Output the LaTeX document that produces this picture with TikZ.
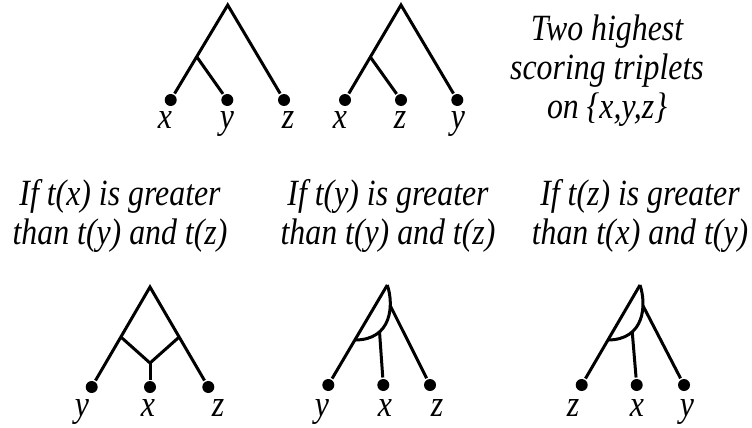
\documentclass[tikz,border=0pt]{standalone}
\usepackage{fontspec}
\setmainfont{Liberation Serif}[FakeStretch=0.86]

\begin{document}
\begin{tikzpicture}[
    x=1pt, y=-1pt,
    line width=3pt,
    every node/.style={font=\fontsize{37}{39}\selectfont\itshape},
    leaf/.style={circle, fill=black, inner sep=0pt, minimum size=12pt},
    caption/.style={align=center, anchor=base},
    letter/.style={anchor=base, inner sep=0pt}
]

\useasboundingbox (0,0) rectangle (752,428);

% Top left tree: ((x,y),z)
\coordinate (r1) at (227.7,5);
\coordinate (j1) at (196.7,56.7);
\node[leaf] (x1) at (170.7,100) {};
\node[leaf] (y1) at (227.3,100) {};
\node[leaf] (z1) at (284,100) {};
\draw (x1) -- (r1) -- (z1);
\draw (j1) -- (y1);

% Top right tree: ((x,z),y)
\coordinate (r2) at (401,5);
\coordinate (j2) at (370.3,57);
\node[leaf] (x2) at (345,100) {};
\node[leaf] (z2) at (401,100) {};
\node[leaf] (y2) at (457.3,100) {};
\draw (x2) -- (r2) -- (y2);
\draw (j2) -- (z2);

% Leaf names, top row
\foreach \x/\t in {165/x, 227/y, 288/z, 340/x, 400/z, 458/y}
    \node[letter] at (\x,128) {\t};

% Two highest triplets (base = last line)
\node[caption] (best) at (607,118) {Two highest\\scoring triplets\\on \{x,y,z\}};

% Conditions
\node[caption] (condx) at (120,244) {If t(x) is greater\\than t(y) and t(z)};
\node[caption] (condy) at (388,244) {If t(y) is greater\\than t(y) and t(z)};
\node[caption] (condz) at (640,244) {If t(z) is greater\\than t(x) and t(y)};

% Bottom left tree: x joins both sides
\coordinate (r3) at (150,287);
\coordinate (jl3) at (120.9,337);
\coordinate (jr3) at (179.2,337);
\coordinate (jc3) at (150,363);
\node[leaf] (y3) at (91.7,387) {};
\node[leaf] (x3) at (150,387) {};
\node[leaf] (z3) at (208.3,387) {};
\draw (y3) -- (r3) -- (z3);
\draw (jl3) -- (jc3) -- (jr3);
\draw (jc3) -- (x3);

% Bottom middle tree: arc from the root
\coordinate (r4) at (387.3,285);
\coordinate (e4) at (354.9,340);
\node[leaf] (y4) at (328.3,385) {};
\node[leaf] (x4) at (383.3,385) {};
\node[leaf] (z4) at (430,385) {};
\draw (r4) -- (y4);
\draw (r4) .. controls (394,305) and (392,340) .. coordinate[pos=0.3] (az4) coordinate[pos=0.7] (ax4) (e4);
\draw (az4) -- (z4);
\draw (ax4) -- (x4);

% Bottom right tree: arc from the root
\coordinate (r5) at (640,285);
\coordinate (e5) at (607.6,340);
\node[leaf] (z5) at (581.7,385) {};
\node[leaf] (x5) at (636.7,385) {};
\node[leaf] (y5) at (684,385) {};
\draw (r5) -- (z5);
\draw (r5) .. controls (646.7,305) and (644.7,340) .. coordinate[pos=0.3] (az5) coordinate[pos=0.7] (ax5) (e5);
\draw (az5) -- (y5);
\draw (ax5) -- (x5);

% Leaf names, bottom row
\foreach \x/\t in {82/y, 148/x, 218/z, 322/y, 385/x, 437/z, 573/z, 637/x, 687/y}
    \node[letter] at (\x,416) {\t};

\end{tikzpicture}
\end{document}
